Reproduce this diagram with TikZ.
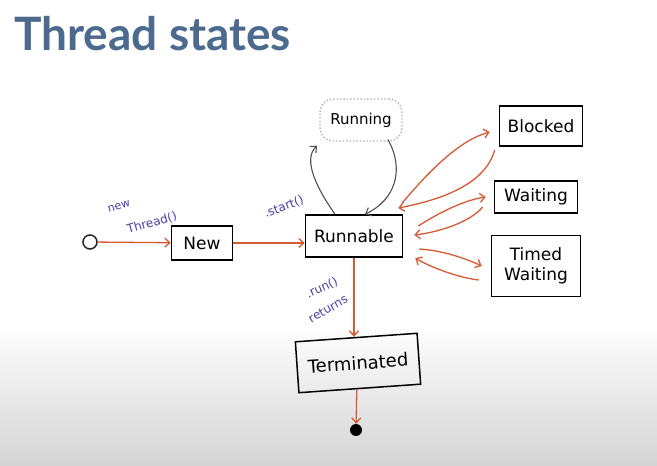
\documentclass[tikz,border=0pt]{standalone}
\usepackage{fontspec}
\setmainfont{DejaVu Sans}
\newfontfamily\titlefont{Lato}
\usetikzlibrary{arrows.meta,shapes.geometric}
\definecolor{titleblue}{HTML}{4B6A8E}
\definecolor{flowred}{HTML}{D65A33}
\definecolor{notepurple}{HTML}{4A3FA6}
\definecolor{loopgray}{HTML}{505050}
\tikzset{
  statebox/.style={draw=black, line width=1.5pt, inner sep=0pt, font=\fontsize{17}{20}\selectfont},
  flow/.style={draw=flowred, line width=1.3pt, -{Straight Barb[length=5pt,width=9pt]}},
  loopline/.style={draw=loopgray, line width=1.1pt, -{Straight Barb[length=5pt,width=9pt]}},
  note/.style={text=notepurple, inner sep=0pt},
}
\begin{document}
\begin{tikzpicture}[x=1pt,y=-1pt]
% page background with a soft grey fade at the bottom
\useasboundingbox (0,0) rectangle (657,466);
\fill[white] (0,0) rectangle (657,325);
\shade[top color=white, bottom color=black!17] (0,324) rectangle (657,466);

% title
\node[anchor=base west, inner sep=0pt, text=titleblue, font=\titlefont\bfseries\fontsize{46}{50}\selectfont] (title) at (14,50) {Thread states};

% states
\node[circle, draw=black!85, line width=1.5pt, minimum size=14pt, inner sep=0pt] (start) at (90,242) {};
\node[statebox, minimum width=61pt, minimum height=34pt] (new) at (202,243) {New};
\node[statebox, minimum width=97pt, minimum height=42pt] (runnable) at (354,236) {Runnable};
\node[draw=black!30, dotted, line width=1.4pt, rounded corners=13pt, minimum width=82pt, minimum height=42pt, inner sep=0pt, font=\fontsize{15}{17}\selectfont] (running) at (361,120) {Running};
\node[statebox, minimum width=83pt, minimum height=40pt] (blocked) at (541,126) {Blocked};
\node[statebox, minimum width=83pt, minimum height=32pt] (waiting) at (536,197) {Waiting};
\node[statebox, minimum width=89pt, minimum height=61pt, align=center] (timed) at (536,266) {Timed\\Waiting};
\node[statebox, minimum width=122pt, minimum height=51pt, rotate=4, font=\fontsize{18}{20}\selectfont] (terminated) at (358,363) {Terminated};
\node[circle, fill=black, minimum size=12pt, inner sep=0pt] (end) at (356,430) {};

% transitions
\draw[flow] (start) -- (new);
\draw[flow] (new.east) -- (new.east -| runnable.west);
\draw[flow] (runnable.south) -- (runnable.south |- terminated.north);
\draw[flow] ([xshift=-3pt]terminated.south) -- (end);

% scheduler loop between Runnable and Running
\draw[loopline] ([xshift=-19pt]runnable.north) .. controls (318,190) and (302,160) .. ([xshift=-44pt,yshift=-4pt]running.south);
\draw[loopline] ([xshift=27pt,yshift=2pt]running.south) .. controls (405,170) and (395,200) .. ([xshift=11pt]runnable.north);

% Blocked
\draw[flow] ([xshift=-1pt,yshift=33pt]runnable.east) .. controls (430,170) and (460,140) .. ([xshift=-9pt,yshift=-6pt]blocked.west);
\draw[flow] ([xshift=-4pt,yshift=-24pt]blocked.west) .. controls (485,185) and (440,200) .. ([xshift=-5pt,yshift=28pt]runnable.east);
% Waiting
\draw[flow] ([xshift=15pt,yshift=10pt]runnable.east) .. controls (440,212) and (465,200) .. ([xshift=-8pt]waiting.west);
\draw[flow] ([xshift=-11pt,yshift=-10pt]waiting.west) .. controls (470,222) and (440,232) .. ([xshift=11pt,yshift=1pt]runnable.east);
% Timed Waiting
\draw[flow] ([xshift=16pt,yshift=-13pt]runnable.east) .. controls (440,250) and (465,258) .. ([xshift=-9pt]timed.west);
\draw[flow] ([xshift=-12pt,yshift=-14pt]timed.west) .. controls (460,278) and (432,268) .. ([xshift=12pt,yshift=-22pt]runnable.east);

% transition notes
\node[note, rotate=16, font=\fontsize{11}{12}\selectfont] (newnote) at (119,206) {new};
\node[note, rotate=16, font=\fontsize{12}{13}\selectfont] (threadnote) at (152,223) {Thread()};
\node[note, rotate=21, font=\fontsize{12}{13}\selectfont] (startnote) at (284,207) {.start()};
\node[note, rotate=24, font=\fontsize{12}{13}\selectfont] (runnote) at (322,288) {.run()};
\node[note, rotate=30, font=\fontsize{12}{13}\selectfont] (retnote) at (328,309) {returns};
\end{tikzpicture}
\end{document}
